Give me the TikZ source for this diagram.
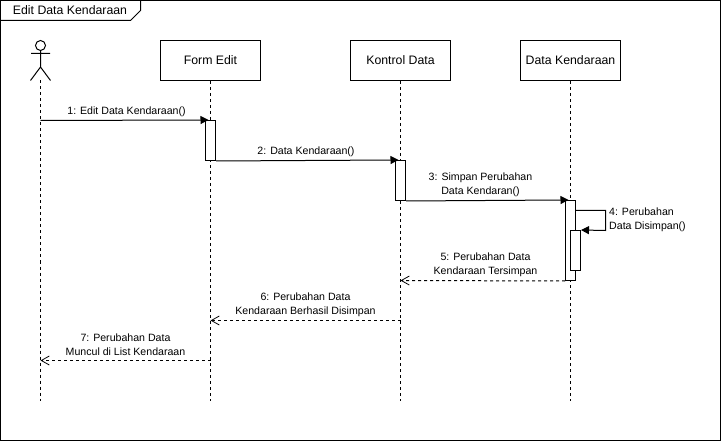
\documentclass[tikz,border=0pt]{standalone}
\usepackage{fontspec}
\setmainfont{Liberation Sans}
\usetikzlibrary{arrows.meta}
\tikzset{
  every node/.style={font=\fontsize{10.6}{13.6}\selectfont, inner sep=0pt, align=center},
  frameline/.style={draw=black, line width=1pt},
  objbox/.style={draw=black, line width=1pt, minimum width=100pt, minimum height=40pt, font=\fontsize{12.3}{14}\selectfont},
  actbox/.style={draw=black, fill=white, line width=1pt, minimum width=10pt},
  life/.style={draw=black, line width=1pt, dash pattern=on 3pt off 3pt},
  sync/.style={draw=black, line width=1pt, -{Triangle[length=8pt,width=8pt]}},
  reply/.style={draw=black, line width=1pt, dash pattern=on 3pt off 3pt, -{Straight Barb[length=8pt,width=9pt,line width=0.8pt]}},
  msg/.style={}
}
\begin{document}
\begin{tikzpicture}[x=1pt,y=-1pt]
\useasboundingbox (0,0) rectangle (721,441);
\draw[frameline] (0.5,0.5) rectangle (720.5,440.5);
\draw[frameline] (0.5,20.5) -- (130.5,20.5) -- (140.5,10.5) -- (140.5,0.5);
\node[font=\fontsize{12.3}{14}\selectfont] (title) at (70,10.5) {Edit Data Kendaraan};

% actor
\draw[line width=1pt] (40.5,45.5) circle (5);
\draw[line width=1pt] (40.5,50.5) -- (40.5,67) (31,53.5) -- (50,53.5) (30.5,80.5) -- (40.5,67) -- (50.5,80.5);
\coordinate (actor) at (40.5,80.5);
\coordinate (actorEnd) at (40.5,400.5);

% objects
\node[objbox] (form) at (210.5,60.5) {Form Edit};
\node[objbox] (kontrol) at (400.5,60.5) {Kontrol Data};
\node[objbox] (data) at (570.5,60.5) {Data Kendaraan};
\coordinate (formEnd) at (210.5,400.5);
\coordinate (kontrolEnd) at (400.5,400.5);
\coordinate (dataEnd) at (570.5,400.5);

% lifelines
\draw[life] (actor) -- (actorEnd);
\draw[life] (form.south) -- (formEnd);
\draw[life] (kontrol.south) -- (kontrolEnd);
\draw[life] (data.south) -- (dataEnd);

% activations
\node[actbox, minimum height=40pt] (a1) at (210.5,140.5) {};
\node[actbox, minimum height=40pt] (a2) at (400.5,180.5) {};
\node[actbox, minimum height=80pt] (a3) at (570.5,240.5) {};
\node[actbox, minimum height=40pt] (a4) at (575.5,250.5) {};

% message end points
\coordinate (m1s) at (40.5,120.5);
\coordinate (m4a) at (605.5,210.5);
\coordinate (m4b) at (605.5,230.5);
\coordinate (m4s) at (575.5,210.5);
\coordinate (m5e) at (400.5,280.5);
\coordinate (m6s) at (400.5,320.5);
\coordinate (m6e) at (210.5,320.5);
\coordinate (m7s) at (210.5,360.5);
\coordinate (m7e) at (40.5,360.5);

% messages
\draw[sync, shorten >=-3.5pt] (m1s) -- (a1.north west);
\draw[sync, shorten >=-3.5pt] (a1.south east) -- (a2.north west);
\draw[sync, shorten >=-3.5pt] (a2.south east) -- (a3.north west);
\draw[sync] (m4s) -- (m4a) -- (m4b) -- (a4.north east);
\draw[reply] (a3.south west) -- (m5e);
\draw[reply] (m6s) -- (m6e);
\draw[reply] (m7s) -- (m7e);

% labels
\node[msg] (l1) at (126.5,112) {1: Edit Data Kendaraan()};
\node[msg] (l2) at (306,152) {2: Data Kendaraan()};
\node[msg] (l3) at (480.5,185) {3: Simpan Perubahan\\Data Kendaran()};
\node[msg, align=left, anchor=west] (l4) at (609,219.5) {4: Perubahan\\Data Disimpan()};
\node[msg] (l5) at (485.5,265) {5: Perubahan Data\\Kendaraan Tersimpan};
\node[msg] (l6) at (305.5,305) {6: Perubahan Data\\Kendaraan Berhasil Disimpan};
\node[msg] (l7) at (125.5,345) {7: Perubahan Data\\Muncul di List Kendaraan};
\end{tikzpicture}
\end{document}
